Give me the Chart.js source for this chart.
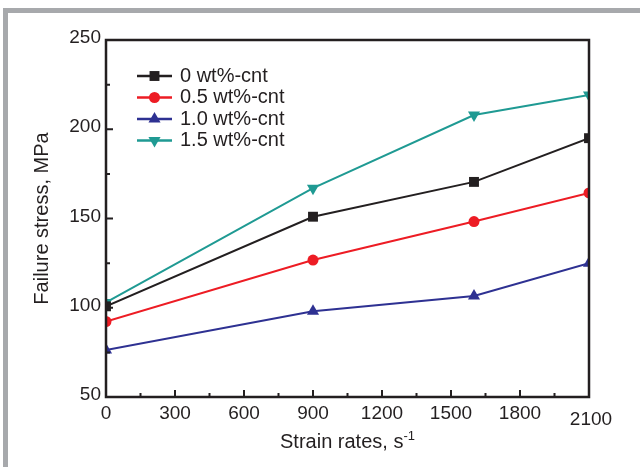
<!DOCTYPE html>
<html>
<head>
<meta charset="utf-8">
<script src="https://cdn.jsdelivr.net/npm/chart.js@4/dist/chart.umd.min.js"></script>
<style>
  html, body { margin: 0; padding: 0; background: #fff; }
  #wrap { width: 640px; height: 467px; position: relative; }
</style>
</head>
<body>
<div id="wrap"><canvas id="myChart" width="640" height="467"></canvas></div>
<script>
/** Data start */
const strainRates = [0, 900, 1600, 2100];
const seriesNames = ['0 wt%-cnt', '0.5 wt%-cnt', '1.0 wt%-cnt', '1.5 wt%-cnt'];
const cnt00 = [100.8, 151.0, 170.5, 195.0];
const cnt05 = [92.3, 126.7, 148.3, 164.3];
const cnt10 = [76.3, 98.0, 106.6, 125.0];
const cnt15 = [103.0, 167.0, 208.0, 219.2];
const xTicks = [0, 300, 600, 900, 1200, 1500, 1800, 2100];
const yTicks = [50, 100, 150, 200, 250];
/** Data end */

const ink = '#231f20';
const fontName = '"Liberation Sans", Arial, sans-serif';

function series(values) {
    return values.map((v, i) => ({ x: strainRates[i], y: v }));
}

const styles = [
    { color: '#231f20', pointStyle: 'rect', radius: 7, rotation: 0 },
    { color: '#ed1c24', pointStyle: 'circle', radius: 5.5, rotation: 0 },
    { color: '#2e3192', pointStyle: 'triangle', radius: 7, rotation: 0 },
    { color: '#1f9a93', pointStyle: 'triangle', radius: 7, rotation: 180 }
];
const allValues = [cnt00, cnt05, cnt10, cnt15];

const datasets = allValues.map((vals, i) => ({
    label: seriesNames[i],
    data: series(vals),
    borderColor: styles[i].color,
    backgroundColor: styles[i].color,
    borderWidth: 2,
    pointStyle: styles[i].pointStyle,
    pointRadius: styles[i].radius,
    pointRotation: styles[i].rotation,
    pointBorderWidth: 0,
    pointHoverRadius: styles[i].radius,
    tension: 0
}));

// frame, box, inward ticks, labels, titles and legend
const decor = {
    id: 'decor',
    beforeDraw(chart) {
        const ctx = chart.ctx;
        ctx.save();
        ctx.fillStyle = '#a7a9ac';
        ctx.fillRect(3, 8, 5, 459);
        ctx.fillRect(3, 8, 637, 5);
        ctx.restore();
    },
    afterDatasetsDraw(chart) {
        const ctx = chart.ctx;
        const a = chart.chartArea;
        const xs = chart.scales.x, ys = chart.scales.y;
        ctx.save();
        ctx.strokeStyle = ink;
        ctx.lineWidth = 2.5;
        ctx.strokeRect(a.left, a.top, a.right - a.left, a.bottom - a.top);

        ctx.lineWidth = 2;
        ctx.beginPath();
        for (let v = 0; v <= 2100; v += 150) {
            const px = xs.getPixelForValue(v);
            const len = v % 300 === 0 ? 7 : 4;
            ctx.moveTo(px, a.bottom);
            ctx.lineTo(px, a.bottom - len);
        }
        for (let v = 50; v <= 250; v += 25) {
            const py = ys.getPixelForValue(v);
            const len = v % 50 === 0 ? 7 : 4;
            ctx.moveTo(a.left, py);
            ctx.lineTo(a.left + len, py);
        }
        ctx.stroke();

        // tick labels
        ctx.fillStyle = ink;
        ctx.font = '19px ' + fontName;
        ctx.textAlign = 'right';
        ctx.textBaseline = 'middle';
        yTicks.forEach(v => {
            ctx.fillText(String(v), a.left - 5, ys.getPixelForValue(v) - 2);
        });
        ctx.textAlign = 'center';
        ctx.textBaseline = 'top';
        xTicks.forEach(v => {
            let px = xs.getPixelForValue(v);
            let py = a.bottom + 7;
            if (v === 2100) { px += 2; py += 6; }
            ctx.fillText(String(v), px, py);
        });

        // x title with superscript
        ctx.font = '20px ' + fontName;
        ctx.textBaseline = 'alphabetic';
        ctx.textAlign = 'left';
        const main = 'Strain rates, s';
        const sup = '-1';
        const w1 = ctx.measureText(main).width;
        ctx.font = '13px ' + fontName;
        const w2 = ctx.measureText(sup).width;
        const cx = (a.left + a.right) / 2;
        const startX = cx - (w1 + w2) / 2;
        ctx.font = '20px ' + fontName;
        ctx.fillText(main, startX, 448);
        ctx.font = '13px ' + fontName;
        ctx.fillText(sup, startX + w1, 440);

        // y title
        ctx.save();
        ctx.translate(42, (a.top + a.bottom) / 2);
        ctx.rotate(-Math.PI / 2);
        ctx.font = '20px ' + fontName;
        ctx.textAlign = 'center';
        ctx.textBaseline = 'middle';
        ctx.fillText('Failure stress, MPa', 0, 0);
        ctx.restore();

        // legend
        chart.data.datasets.forEach((ds, i) => {
            const y = 76 + i * 21.5;
            ctx.strokeStyle = ds.borderColor;
            ctx.lineWidth = 2.5;
            ctx.beginPath();
            ctx.moveTo(137, y);
            ctx.lineTo(172, y);
            ctx.stroke();
            ctx.fillStyle = ds.backgroundColor;
            Chart.helpers.drawPoint(ctx, {
                pointStyle: ds.pointStyle,
                radius: ds.pointRadius,
                rotation: ds.pointRotation,
                borderWidth: 0
            }, 154.5, y);
            ctx.fillStyle = ink;
            ctx.font = '20px ' + fontName;
            ctx.textAlign = 'left';
            ctx.textBaseline = 'middle';
            ctx.fillText(ds.label, 180, y);
        });
        ctx.restore();
    }
};

const config = {
    type: 'line',
    data: { datasets: datasets },
    options: {
        responsive: false,
        animation: false,
        layout: { padding: { left: 0, top: 40, right: 51, bottom: 0 } },
        plugins: { legend: { display: false }, tooltip: { enabled: false } },
        scales: {
            x: {
                type: 'linear',
                min: 0,
                max: 2100,
                grid: { display: false },
                border: { display: false },
                ticks: { display: false },
                afterFit: s => { s.height = 70; }
            },
            y: {
                min: 50,
                max: 250,
                grid: { display: false },
                border: { display: false },
                ticks: { display: false },
                afterFit: s => { s.width = 106; }
            }
        }
    },
    plugins: [decor]
};

const myChart = new Chart(document.getElementById('myChart'), config);
</script>
</body>
</html>
